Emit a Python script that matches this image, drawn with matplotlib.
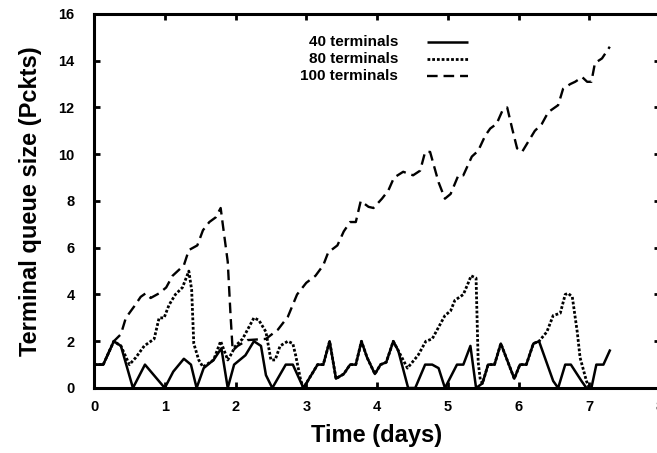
import matplotlib
matplotlib.use('Agg')
import matplotlib.pyplot as plt

plt.rcParams['font.family'] = ['Liberation Sans', 'DejaVu Sans']
plt.rcParams['font.weight'] = 'bold'

# Time (days) / queue size (packets) for each run
t_40 = [0.0, 0.13, 0.28, 0.38, 0.55, 0.72, 1.0, 1.12, 1.27, 1.37, 1.45, 1.55, 1.69, 1.80,
        1.89, 1.98, 2.14, 2.26, 2.36, 2.43, 2.52, 2.71, 2.81, 2.96, 3.16, 3.24, 3.33, 3.42,
        3.53, 3.62, 3.70, 3.78, 3.86, 3.97, 4.05, 4.13, 4.23, 4.30, 4.44, 4.54, 4.68, 4.78,
        4.87, 4.96, 5.13, 5.22, 5.32, 5.40, 5.49, 5.57, 5.66, 5.75, 5.94, 6.02, 6.11, 6.21,
        6.29, 6.49, 6.56, 6.66, 6.74, 6.89, 6.96, 7.03, 7.10, 7.20, 7.29]
q_40 = [1.0, 1.0, 2.0, 1.8, 0.0, 1.0, 0.0, 0.7, 1.25, 1.0, 0.0, 0.85, 1.2, 1.7,
        0.0, 1.0, 1.4, 2.0, 1.8, 0.55, 0.0, 1.0, 1.0, 0.0, 1.0, 1.0, 2.0, 0.4,
        0.6, 1.0, 1.0, 2.0, 1.3, 0.6, 1.0, 1.1, 2.0, 1.6, 0.0, 0.0, 1.0, 1.0,
        0.85, 0.0, 1.0, 1.0, 1.8, 0.0, 0.2, 1.0, 1.0, 1.9, 0.4, 1.0, 1.0, 1.9,
        2.0, 0.3, 0.0, 1.0, 1.0, 0.3, 0.0, 0.0, 1.0, 1.0, 1.6]

t_80 = [0.0, 0.13, 0.28, 0.38, 0.50, 0.59, 0.71, 0.85, 0.92, 0.99, 1.06, 1.15, 1.25, 1.34,
        1.38, 1.41, 1.48, 1.54, 1.69, 1.79, 1.84, 1.89, 1.93, 2.00, 2.10, 2.26, 2.33, 2.43,
        2.50, 2.56, 2.63, 2.74, 2.81, 2.85, 2.92, 2.96, 3.16, 3.24, 3.33, 3.42, 3.53, 3.62,
        3.70, 3.78, 3.86, 3.97, 4.05, 4.13, 4.23, 4.30, 4.43, 4.58, 4.69, 4.78, 4.87, 4.96,
        5.04, 5.10, 5.22, 5.29, 5.33, 5.40, 5.43, 5.46, 5.49, 5.57, 5.66, 5.75, 5.94, 6.02,
        6.11, 6.21, 6.29, 6.40, 6.49, 6.59, 6.66, 6.70, 6.76, 6.83, 6.87, 6.96, 7.00]
q_80 = [1.0, 1.0, 2.0, 1.8, 1.0, 1.3, 1.8, 2.1, 3.0, 3.0, 3.55, 4.0, 4.3, 5.0,
        4.2, 1.9, 1.2, 0.9, 1.2, 2.0, 1.6, 1.2, 1.4, 1.8, 2.1, 3.0, 2.9, 2.4,
        1.2, 1.2, 1.8, 2.0, 1.9, 1.4, 0.35, 0.0, 1.0, 1.0, 2.0, 0.4, 0.6, 1.0,
        1.0, 2.0, 1.3, 0.6, 1.0, 1.1, 2.0, 1.6, 0.85, 1.4, 2.0, 2.1, 2.6, 3.1,
        3.3, 3.75, 4.0, 4.5, 4.8, 4.7, 1.1, 0.35, 0.2, 1.0, 1.0, 1.9, 0.4, 1.0,
        1.0, 1.9, 2.0, 2.4, 3.1, 3.2, 4.0, 4.05, 3.9, 2.4, 1.3, 0.3, 0.0]

t_100 = [0.0, 0.13, 0.28, 0.38, 0.45, 0.57, 0.66, 0.73, 0.80, 0.92, 1.02, 1.11, 1.27, 1.34,
         1.46, 1.54, 1.63, 1.72, 1.79, 1.82, 1.89, 1.93, 1.96, 2.03, 2.17, 2.43, 2.60, 2.74,
         2.87, 3.00, 3.13, 3.24, 3.31, 3.44, 3.53, 3.62, 3.70, 3.77, 3.88, 3.95, 4.07, 4.16,
         4.24, 4.37, 4.51, 4.61, 4.68, 4.75, 4.87, 4.96, 5.04, 5.15, 5.22, 5.34, 5.43, 5.53,
         5.60, 5.69, 5.77, 5.84, 5.91, 5.98, 6.05, 6.16, 6.23, 6.33, 6.42, 6.56, 6.63, 6.73,
         6.80, 6.90, 6.97, 7.03, 7.08, 7.18, 7.29]
q_100 = [1.0, 1.0, 2.0, 2.3, 3.0, 3.5, 3.9, 4.05, 3.85, 4.05, 4.3, 4.8, 5.25, 5.9,
         6.1, 6.75, 7.1, 7.3, 7.7, 7.0, 5.4, 3.1, 1.6, 1.8, 2.05, 2.1, 2.5, 3.05,
         4.0, 4.5, 4.8, 5.25, 5.8, 6.1, 6.7, 7.1, 7.1, 8.0, 7.75, 7.7, 8.1, 8.45,
         9.0, 9.25, 9.1, 9.3, 10.1, 10.1, 8.8, 8.1, 8.3, 9.1, 9.1, 9.9, 10.15, 10.8,
         11.1, 11.3, 11.85, 12.0, 11.1, 10.25, 10.1, 10.65, 11.0, 11.3, 11.8, 12.1, 12.8, 13.0,
         13.1, 13.3, 13.1, 13.1, 13.9, 14.1, 14.6]

labels = ['40 terminals', '80 terminals', '100 terminals']

fig = plt.figure(figsize=(6.57, 4.53), dpi=100)
ax = fig.add_axes([0.1431, 0.1435, 0.8615, 0.8256])

styles = [dict(linestyle='-', linewidth=1.8),
          dict(linestyle=(0, (1.0, 0.7)), linewidth=2.0),
          dict(linestyle=(0, (4.5, 2.5)), linewidth=1.7)]
series = [(t_40, q_40), (t_80, q_80), (t_100, q_100)]

for (t, q), st in zip(series, styles):
    ax.plot(t, q, color='black', **st)

# hand made legend: labels right aligned, line sample after the text
rows = [0.925, 0.879, 0.833]
for lab, st, yy in zip(labels, styles, rows):
    ax.text(0.537, yy, lab, transform=ax.transAxes, ha='right', va='center',
            fontsize=11, fontweight='bold')
    ax.plot([0.588, 0.661], [yy, yy], transform=ax.transAxes, color='black',
            solid_capstyle='butt', **st)

ax.set_xlim(0, 8)
ax.set_ylim(0, 16)
ax.set_xticks(range(0, 9))
ax.set_yticks(range(0, 17, 2))

for s in ax.spines.values():
    s.set_linewidth(2.2)
ax.tick_params(direction='in', length=4, width=2, top=True, right=True, labelsize=10.5)
ax.tick_params(axis='y', pad=14)
ax.tick_params(axis='x', pad=9)
for lab in ax.get_xticklabels() + ax.get_yticklabels():
    lab.set_fontweight('bold')

ax.set_xlabel('Time (days)', fontsize=17, fontweight='bold', labelpad=7)
ax.set_ylabel('Terminal queue size (Pckts)', fontsize=17, fontweight='bold', labelpad=12)

plt.savefig('out.png', dpi=100)
plt.close()
